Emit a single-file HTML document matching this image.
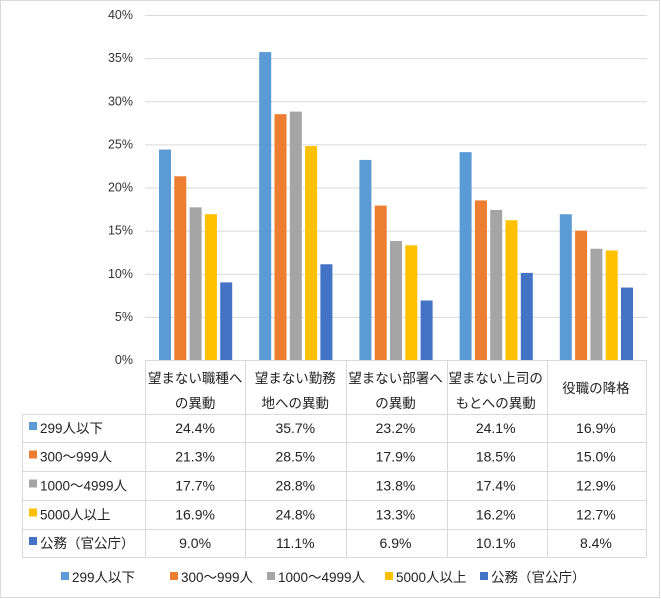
<!DOCTYPE html>
<html><head><meta charset="utf-8"><style>
body{margin:0;background:#fff}
svg{display:block;font-family:"Liberation Sans","Noto Sans CJK JP",sans-serif}
</style></head><body>
<svg id="s" width="661" height="599" viewBox="0 0 661 599" xmlns="http://www.w3.org/2000/svg">
<rect x="0.5" y="0.5" width="659" height="597" fill="#fff" stroke="#d9d9d9"/>
<g id="grid" stroke="#d9d9d9" stroke-width="1"></g>
<g id="ylab" font-size="12.5" fill="#333" text-anchor="end"></g>
<g id="bars"></g>
<g id="tbl" stroke="#d9d9d9" stroke-width="1" fill="none"></g>
<g id="ttext" font-size="13.5" fill="#222" text-anchor="middle"></g>
<g font-size="13.5" fill="#222">
<rect x="61" y="572" width="8" height="8" fill="#5B9BD5"/><text x="72" y="582">299人以下</text>
<rect x="170" y="572" width="8" height="8" fill="#ED7D31"/><text x="181" y="582">300～999人</text>
<rect x="267" y="572" width="8" height="8" fill="#A5A5A5"/><text x="278" y="582">1000～4999人</text>
<rect x="385" y="572" width="8" height="8" fill="#FFC000"/><text x="396" y="582">5000人以上</text>
<rect x="480" y="572" width="8" height="8" fill="#4472C4"/><text x="491" y="582">公務（官公庁）</text>
</g>
</svg>
<script>
var NS="http://www.w3.org/2000/svg";
function el(p,t,a,txt){var e=document.createElementNS(NS,t);for(var k in a)e.setAttribute(k,a[k]);if(txt!=null)e.textContent=txt;document.getElementById(p).appendChild(e);}
var y0=360,k=8.625;
for(var i=0;i<=8;i++){var y=y0-i*5*k;if(i>0)el("grid","line",{x1:145,x2:647,y1:y+0.5,y2:y+0.5});el("ylab","text",{x:133,y:y+4},(i*5)+"%");}
var cols=["#5B9BD5","#ED7D31","#A5A5A5","#FFC000","#4472C4"];
var v=[[24.4,21.3,17.7,16.9,9.0],[35.7,28.5,28.8,24.8,11.1],[23.2,17.9,13.8,13.3,6.9],[24.1,18.5,17.4,16.2,10.1],[16.9,15.0,12.9,12.7,8.4]];
var cw=100.2;
for(var c=0;c<5;c++)for(var j=0;j<5;j++){var h=v[c][j]*k;el("bars","rect",{x:145+c*cw+14+j*15.3,y:y0-h,width:12,height:h,fill:cols[j]});}
var xs=[145,245,346,447,547,646],ys=[414,442,471,500,529,557];
xs.forEach(function(x){el("tbl","line",{x1:x+0.5,x2:x+0.5,y1:360,y2:557});});
el("tbl","line",{x1:22.5,x2:22.5,y1:414,y2:557});
el("tbl","line",{x1:145,x2:646,y1:360.5,y2:360.5});
ys.forEach(function(y){el("tbl","line",{x1:22,x2:646,y1:y+0.5,y2:y+0.5});});
var hd=[["望まない職種へ","の異動"],["望まない勤務","地への異動"],["望まない部署へ","の異動"],["望まない上司の","もとへの異動"],["役職の降格"]];
for(var c=0;c<5;c++){var cx=145+c*cw+cw/2;if(hd[c].length==2){el("ttext","text",{x:cx,y:383},hd[c][0]);el("ttext","text",{x:cx,y:408},hd[c][1]);}else el("ttext","text",{x:cx,y:393},hd[c][0]);}
var names=["299人以下","300～999人","1000～4999人","5000人以上","公務（官公庁）"];
for(var r=0;r<5;r++){var cy=(ys[r]+ys[r+1])/2+5;
el("tbl","rect",{x:29,y:cy-11,width:8,height:8,fill:cols[r],stroke:"none"});
el("ttext","text",{x:40,y:cy,"text-anchor":"start"},names[r]);
for(var c=0;c<5;c++)el("ttext","text",{x:145+c*cw+cw/2,y:cy,"font-size":"14"},v[c][r].toFixed(1)+"%");}
</script>
</body></html>
